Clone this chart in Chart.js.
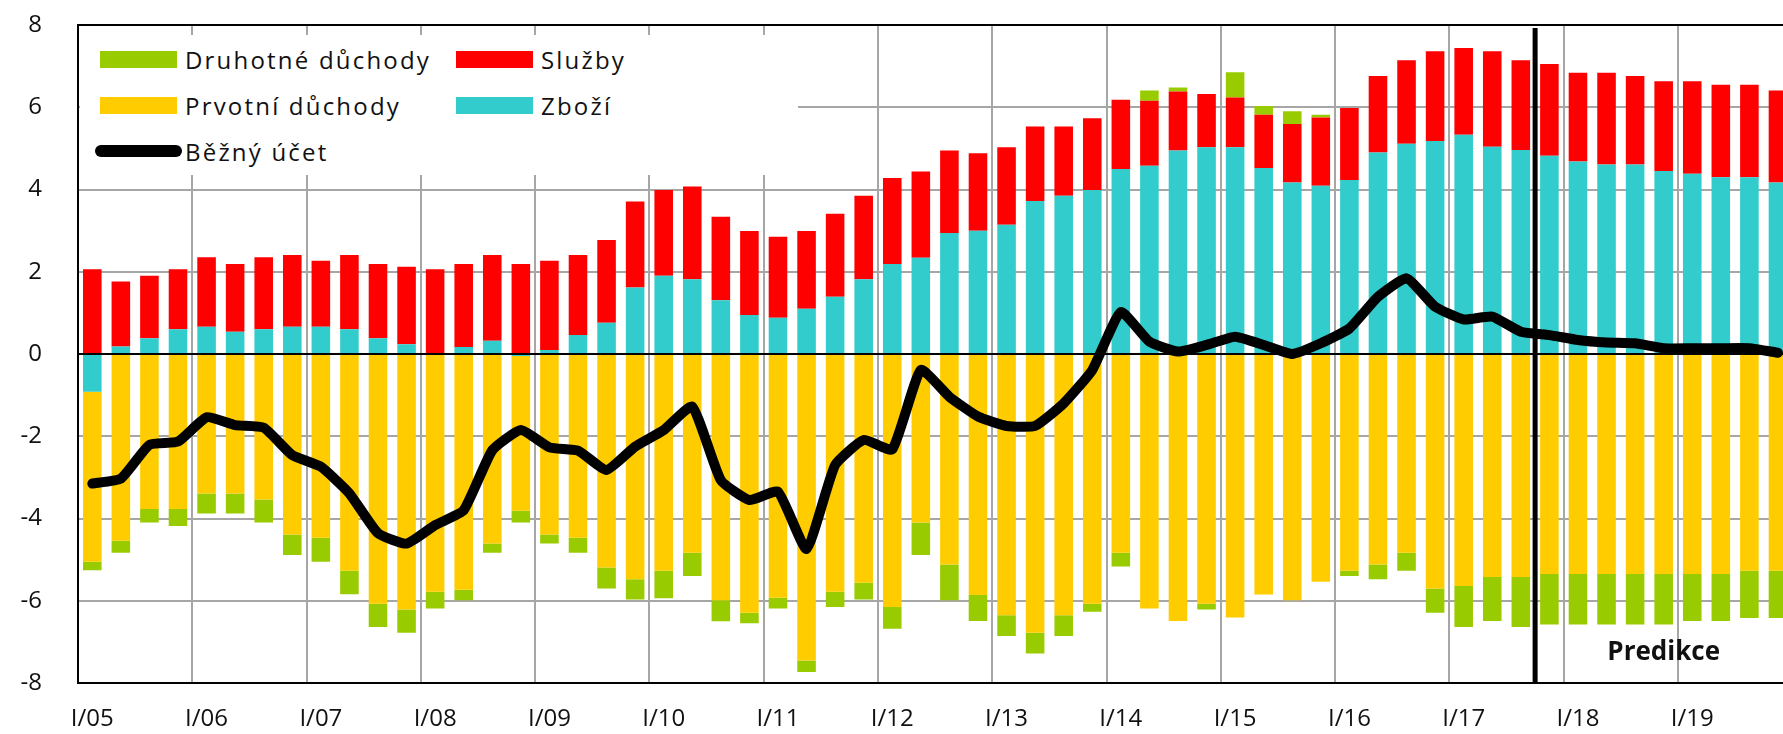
<!DOCTYPE html>
<html>
<head>
<meta charset="utf-8">
<script src="https://cdn.jsdelivr.net/npm/chart.js@4.4.0/dist/chart.umd.min.js"></script>
<style>
  html, body { margin: 0; padding: 0; background: #fff; overflow: hidden; }
  #wrap { position: relative; width: 1800px; height: 734px; }
  #legend {
    position: absolute; left: 80px; top: 35px; width: 718px; height: 140px;
    background: #fff; box-sizing: border-box; padding: 1px 0 0 20px;
    display: grid; grid-template-columns: 356px auto; grid-auto-rows: 46px;
    font-family: 'Open Sans', sans-serif; font-size: 24px; color: #111; letter-spacing: 2.2px;
  }
  .item { display: flex; align-items: center; white-space: nowrap; }
  .sw { width: 77px; height: 17px; margin-right: 8px; flex: none; }
  .sw.line { width: 87px; height: 12px; border-radius: 6px; margin-left: -5px; margin-right: 3px; }
</style>
</head>
<body>
<div id="wrap"><canvas id="chart"></canvas><div id="legend"></div></div>
<script>
// quarters I/05 .. IV/19
const YEARS = ['05','06','07','08','09','10','11','12','13','14','15','16','17','18','19'];
const QUARTERS = [];
YEARS.forEach(y => ['I','II','III','IV'].forEach(q => QUARTERS.push(q + '/' + y)));
const FORECAST_START = 'IV/17';

const ZBOZI = [-0.92,0.18,0.38,0.60, 0.66,0.54,0.60,0.66, 0.66,0.60,0.38,0.24, 0.02,0.17,0.32,-0.05,
  0.10,0.46,0.76,1.62, 1.90,1.82,1.31,0.95, 0.88,1.10,1.39,1.82, 2.19,2.34,2.94,3.00,
  3.14,3.72,3.85,3.99, 4.50,4.58,4.95,5.03, 5.03,4.52,4.17,4.09, 4.23,4.90,5.11,5.18,
  5.33,5.04,4.96,4.82, 4.68,4.61,4.61,4.45, 4.38,4.30,4.30,4.17];
const SLUZBY = [2.06,1.58,1.52,1.46, 1.69,1.65,1.75,1.75, 1.61,1.81,1.81,1.88, 2.04,2.02,2.09,2.19,
  2.17,1.95,2.01,2.09, 2.09,2.25,2.03,2.04, 1.97,1.89,2.02,2.03, 2.09,2.10,2.01,1.88,
  1.89,1.81,1.68,1.74, 1.68,1.58,1.43,1.29, 1.21,1.30,1.42,1.66, 1.75,1.86,2.03,2.18,
  2.11,2.32,2.18,2.23, 2.16,2.23,2.15,2.18, 2.25,2.25,2.25,2.24];
const PRVOTNI = [-4.13,-4.54,-3.77,-3.77, -3.39,-3.39,-3.54,-4.39, -4.47,-5.27,-6.07,-6.21, -5.78,-5.73,-4.61,-3.76,
  -4.39,-4.47,-5.19,-5.48, -5.27,-4.83,-5.99,-6.29, -5.93,-7.45,-5.78,-5.56, -6.15,-4.10,-5.12,-5.86,
  -6.35,-6.78,-6.35,-6.07, -4.83,-6.19,-6.49,-6.07, -6.41,-5.85,-5.99,-5.54, -5.27,-5.12,-4.83,-5.70,
  -5.64,-5.42,-5.42,-5.35, -5.35,-5.35,-5.35,-5.35, -5.35,-5.35,-5.27,-5.27];
const DRUHOTNE = [-0.21,-0.29,-0.33,-0.41, -0.49,-0.49,-0.56,-0.50, -0.58,-0.57,-0.57,-0.57, -0.41,-0.26,-0.22,-0.29,
  -0.22,-0.36,-0.51,-0.49, -0.67,-0.57,-0.51,-0.26, -0.26,-0.28,-0.37,-0.41, -0.53,-0.79,-0.87,-0.63,
  -0.51,-0.50,-0.51,-0.20, -0.34,0.25,0.10,-0.14, 0.61,0.21,0.31,0.07, -0.13,-0.36,-0.44,-0.59,
  -1.00,-1.07,-1.22,-1.23, -1.23,-1.23,-1.23,-1.23, -1.14,-1.14,-1.15,-1.15];
const BEZNY_UCET = [-3.15,-3.03,-2.21,-2.13, -1.54,-1.73,-1.79,-2.46, -2.74,-3.39,-4.36,-4.61, -4.16,-3.80,-2.34,-1.85,
  -2.27,-2.35,-2.82,-2.25, -1.85,-1.28,-3.07,-3.55, -3.35,-4.74,-2.70,-2.09, -2.32,-0.39,-1.04,-1.52,
  -1.75,-1.75,-1.20,-0.39, 1.02,0.30,0.06,0.22, 0.42,0.22,0.00,0.26, 0.62,1.39,1.84,1.15,
  0.84,0.91,0.54,0.46, 0.34,0.28,0.26,0.14, 0.14,0.14,0.14,0.03];

const FONT = "'Open Sans', sans-serif";
const GRID = '#a6a6a6';

const bar = (label, data, color) => ({
  type: 'bar', label, data, backgroundColor: color, borderWidth: 0,
  stack: 'ca', order: 1, barPercentage: 1, categoryPercentage: 0.65
});

const data = {
  labels: QUARTERS,
  datasets: [
    bar('Zboží', ZBOZI, '#33cccc'),
    bar('Služby', SLUZBY, '#ff0000'),
    bar('Prvotní důchody', PRVOTNI, '#ffcc00'),
    bar('Druhotné důchody', DRUHOTNE, '#99cc00'),
    {
      type: 'line', label: 'Běžný účet', data: BEZNY_UCET, order: 0,
      borderColor: '#000', borderWidth: 10, pointRadius: 0, tension: 0.15,
      borderCapStyle: 'round', borderJoinStyle: 'round', fill: false
    }
  ]
};

const predikce = {
  id: 'predikce',
  afterDatasetsDraw: (chart) => {
    const {ctx} = chart;
    const {top, bottom, left, right} = chart.chartArea;
    const x = chart.scales.x, y = chart.scales.y;
    const i = QUARTERS.indexOf(FORECAST_START);
    const xl = (x.getPixelForValue(i - 1) + x.getPixelForValue(i)) / 2;
    ctx.save();
    ctx.strokeStyle = '#000';
    // zero line over the bars
    ctx.beginPath();
    ctx.lineWidth = 2;
    const y0 = y.getPixelForValue(0);
    ctx.moveTo(left, y0); ctx.lineTo(right, y0);
    ctx.stroke();
    // start of forecast
    ctx.beginPath();
    ctx.lineWidth = 5;
    ctx.moveTo(xl, top + 3); ctx.lineTo(xl, bottom);
    ctx.stroke();
    ctx.font = 'bold 26px ' + FONT;
    ctx.fillStyle = '#111';
    ctx.textAlign = 'center';
    ctx.textBaseline = 'middle';
    ctx.fillText('Predikce', x.getPixelForValue(i + 4), y.getPixelForValue(-7.25));
    ctx.restore();
  }
};

const options = {
  responsive: true,
  maintainAspectRatio: false,
  animation: false,
  layout: { padding: { top: 25, right: 4.5, left: 0, bottom: 0 } },
  plugins: { legend: { display: false }, tooltip: { enabled: false } },
  scales: {
    x: {
      stacked: true,
      offset: true,
      grid: {
        offset: true,
        drawTicks: false,
        color: c => (c.index % 4 === 0 ? GRID : 'rgba(0,0,0,0)'),
        lineWidth: 2
      },
      border: { color: '#000', width: 2 },
      ticks: {
        autoSkip: false, maxRotation: 0, padding: 22, color: '#111',
        font: { family: FONT, size: 24 },
        callback: (v, i) => (QUARTERS[i].startsWith('I/') ? QUARTERS[i] : '')
      },
      afterFit: s => { s.height = 51; }
    },
    y: {
      stacked: true,
      min: -8, max: 8,
      grid: {
        drawTicks: false,
        color: c => (c.tick.value === 0 || Math.abs(c.tick.value) === 8 ? '#000' : GRID),
        lineWidth: 2
      },
      border: { color: '#000', width: 2 },
      ticks: { stepSize: 2, padding: 36, color: '#111', font: { family: FONT, size: 24 } },
      // the wide label gap should not push the plot down
      afterFit: s => { s.width = 78; s.paddingTop = 12; s.paddingBottom = 12; }
    }
  }
};

const chart = new Chart(document.getElementById('chart'), { data, options, plugins: [predikce] });

// legend, laid out in two columns like the original
const legendOrder = ['Druhotné důchody', 'Služby', 'Prvotní důchody', 'Zboží', 'Běžný účet'];
const $legend = document.getElementById('legend');
legendOrder.forEach(name => {
  const ds = data.datasets.find(d => d.label === name);
  const item = document.createElement('div');
  item.className = 'item';
  const sw = document.createElement('span');
  sw.className = ds.type === 'line' ? 'sw line' : 'sw';
  sw.style.background = ds.type === 'line' ? ds.borderColor : ds.backgroundColor;
  item.appendChild(sw);
  item.appendChild(document.createTextNode(name));
  $legend.appendChild(item);
});
</script>
</body>
</html>
